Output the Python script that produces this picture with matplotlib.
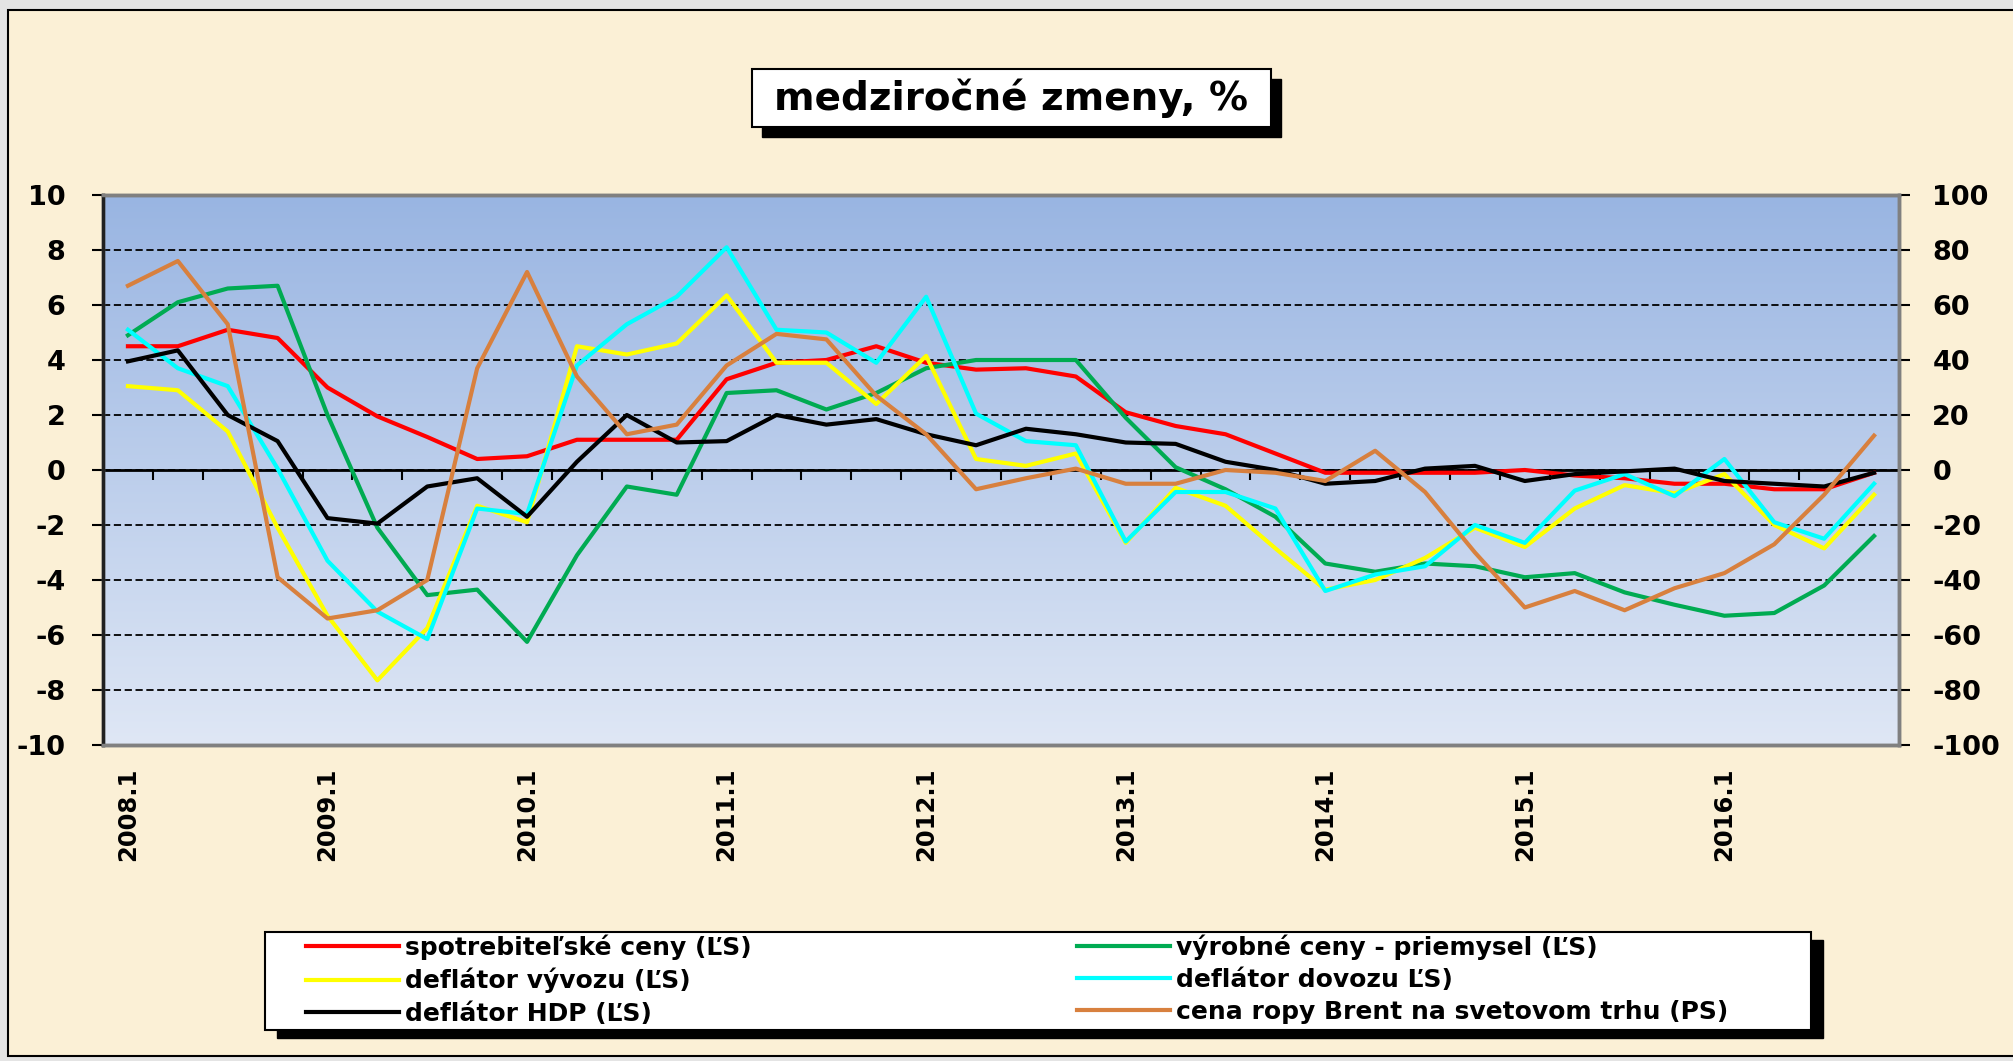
import numpy as np
import matplotlib.pyplot as plt
from matplotlib.colors import LinearSegmentedColormap
from matplotlib.patches import Rectangle

plt.rcParams['font.family'] = ['DejaVu Sans']
plt.rcParams['font.weight'] = 'bold'
plt.rcParams['axes.unicode_minus'] = False

# stvrtroky 2008.1 - 2016.4
roky = ['2008', '2009', '2010', '2011', '2012', '2013', '2014', '2015', '2016']
kvartaly = [r + '.' + str(q) for r in roky for q in (1, 2, 3, 4)]

# lava os (LS), %
spotrebitelske = [4.5, 4.5, 5.1, 4.8, 3.0, 1.95, 1.2, 0.4, 0.5, 1.1, 1.1, 1.1,
                  3.3, 3.9, 4.0, 4.5, 3.9, 3.65, 3.7, 3.4, 2.1, 1.6, 1.3, 0.6,
                  -0.1, -0.1, -0.1, -0.1, 0.0, -0.2, -0.3, -0.5, -0.5, -0.7, -0.7, -0.1]
vyrobne = [4.9, 6.1, 6.6, 6.7, 2.0, -2.1, -4.55, -4.35, -6.25, -3.1, -0.6, -0.9,
           2.8, 2.9, 2.2, 2.8, 3.7, 4.0, 4.0, 4.0, 1.9, 0.1, -0.7, -1.7,
           -3.4, -3.7, -3.4, -3.5, -3.9, -3.75, -4.45, -4.9, -5.3, -5.2, -4.2, -2.4]
vyvoz = [3.05, 2.9, 1.4, -2.1, -5.3, -7.65, -5.75, -1.3, -1.9, 4.5, 4.2, 4.6,
         6.35, 3.9, 3.9, 2.4, 4.15, 0.4, 0.15, 0.6, -2.65, -0.65, -1.3, -2.85,
         -4.35, -4.0, -3.2, -2.1, -2.8, -1.4, -0.55, -0.85, -0.15, -2.0, -2.85, -0.9]
dovoz = [5.1, 3.7, 3.05, 0.05, -3.3, -5.15, -6.15, -1.4, -1.6, 3.8, 5.3, 6.3,
         8.1, 5.1, 5.0, 3.9, 6.3, 2.05, 1.05, 0.9, -2.6, -0.8, -0.8, -1.4,
         -4.4, -3.8, -3.5, -2.0, -2.65, -0.75, -0.15, -0.95, 0.4, -1.9, -2.5, -0.5]
hdp = [3.95, 4.35, 2.0, 1.05, -1.75, -1.95, -0.6, -0.3, -1.7, 0.3, 2.0, 1.0,
       1.05, 2.0, 1.65, 1.85, 1.3, 0.9, 1.5, 1.3, 1.0, 0.95, 0.3, 0.0,
       -0.5, -0.4, 0.05, 0.15, -0.4, -0.15, -0.05, 0.05, -0.4, -0.5, -0.6, -0.1]
# prava os (PS), %
brent = [67, 76, 53, -39, -54, -51, -40, 37, 72, 34, 13, 16.5,
         38, 49.5, 47.5, 27, 13, -7, -3, 0.5, -5, -5, 0, -1,
         -4, 7, -8, -30, -50, -44, -51, -43, -37.5, -27, -9, 12.5]

W, H = 2013, 1061
fig = plt.figure(figsize=(W / 100, H / 100), dpi=100, facecolor='#E4E4E4')


def box(x0, y0, x1, y1):
    # pixel box (from top left) -> figure fraction
    return (x0 / W, 1 - y1 / H), (x1 - x0) / W, (y1 - y0) / H


# podklad
xy, w, h = box(8, 10, W + 20, 1056)
fig.add_artist(Rectangle(xy, w, h, transform=fig.transFigure, facecolor='#FBF0D6',
                         edgecolor='black', lw=1.5, zorder=-1))

# titulok v ramceku s tienom
xy, w, h = box(762, 79, 1281, 137)
fig.add_artist(Rectangle(xy, w, h, transform=fig.transFigure, color='black', zorder=1))
xy, w, h = box(752, 69, 1271, 127)
fig.add_artist(Rectangle(xy, w, h, transform=fig.transFigure, facecolor='white',
                         edgecolor='black', lw=1.5, zorder=2))
fig.text(1011.5 / W, 1 - 98 / H, 'medziročné zmeny, %', ha='center', va='center',
         fontsize=28, fontweight='bold', zorder=3)

ax = fig.add_axes([103 / W, 1 - 745 / H, (1899 - 103) / W, (745 - 195) / H])
x = np.arange(len(kvartaly))

grad = LinearSegmentedColormap.from_list('pozadie', ['#99B5E2', '#DFE7F5'])
ax.imshow(np.linspace(0, 1, 256).reshape(-1, 1), cmap=grad, extent=[0, 1, 0, 1],
          transform=ax.transAxes, aspect='auto', zorder=0)

lw = 3
h1, = ax.plot(x, spotrebitelske, color='#FF0000', lw=lw, label='spotrebiteľské ceny (ĽS)')
h2, = ax.plot(x, vyrobne, color='#00AB52', lw=lw, label='výrobné ceny - priemysel (ĽS)')
h3, = ax.plot(x, vyvoz, color='#FFFF00', lw=lw, label='deflátor vývozu (ĽS)')
h4, = ax.plot(x, dovoz, color='#00FFFF', lw=lw, label='deflátor dovozu ĽS)')
h5, = ax.plot(x, hdp, color='black', lw=lw, label='deflátor HDP (ĽS)')

ax2 = ax.twinx()
h6, = ax2.plot(x, brent, color='#D8803E', lw=lw, label='cena ropy Brent na svetovom trhu (PS)')

ax.set_xlim(-0.5, len(x) - 0.5)
ax.set_ylim(-10, 10)
ax2.set_ylim(-100, 100)
ax.set_yticks(np.arange(-10, 11, 2))
ax2.set_yticks(np.arange(-100, 101, 20))
ax.set_xticks(x[::4])
ax.set_xticklabels(kvartaly[::4], rotation=90, fontsize=17.5)
ax.tick_params(axis='x', length=0, pad=16)
ax.tick_params(axis='y', direction='out', length=8, width=1.5, pad=19, labelsize=19.5)
ax2.tick_params(axis='y', direction='out', length=8, width=1.5, pad=16, labelsize=19.5)

ax.set_axisbelow(True)
ax.yaxis.grid(True, linestyle=(0, (4, 2)), color='black', lw=1.3)

for a in (ax, ax2):
    for s in a.spines.values():
        s.set_color('#808080')
        s.set_linewidth(2.5)
ax2.spines['left'].set_color('#202020')

# os x na nule s dielikmi medzi stvrtrokmi
sec = ax.secondary_xaxis(0.5)
sec.set_alignment('bottom')
sec.set_xticks(np.arange(0.5, len(x) - 0.5, 1))
sec.tick_params(axis='x', direction='out', length=7, width=1.5, color='black',
                labelbottom=False, labeltop=False)
sec.spines['bottom'].set_color('black')
sec.spines['bottom'].set_linewidth(2)

# legenda
xy, w, h = box(277, 940, 1823, 1038)
fig.add_artist(Rectangle(xy, w, h, transform=fig.transFigure, color='black', zorder=1))
xy, w, h = box(265, 932, 1811, 1030)
fig.add_artist(Rectangle(xy, w, h, transform=fig.transFigure, facecolor='white',
                         edgecolor='black', lw=1.5, zorder=2))
opts = dict(loc='upper left', frameon=False, fontsize=18, handlelength=3.7,
            handletextpad=0.25, labelspacing=0.33, borderpad=0, borderaxespad=0)
fig.legend(handles=[h1, h3, h5], bbox_to_anchor=(306 / W, 1 - 934 / H), **opts)
fig.legend(handles=[h2, h4, h6], bbox_to_anchor=(1077 / W, 1 - 934 / H), **opts)

plt.savefig('out.png', dpi=100, facecolor=fig.get_facecolor())
